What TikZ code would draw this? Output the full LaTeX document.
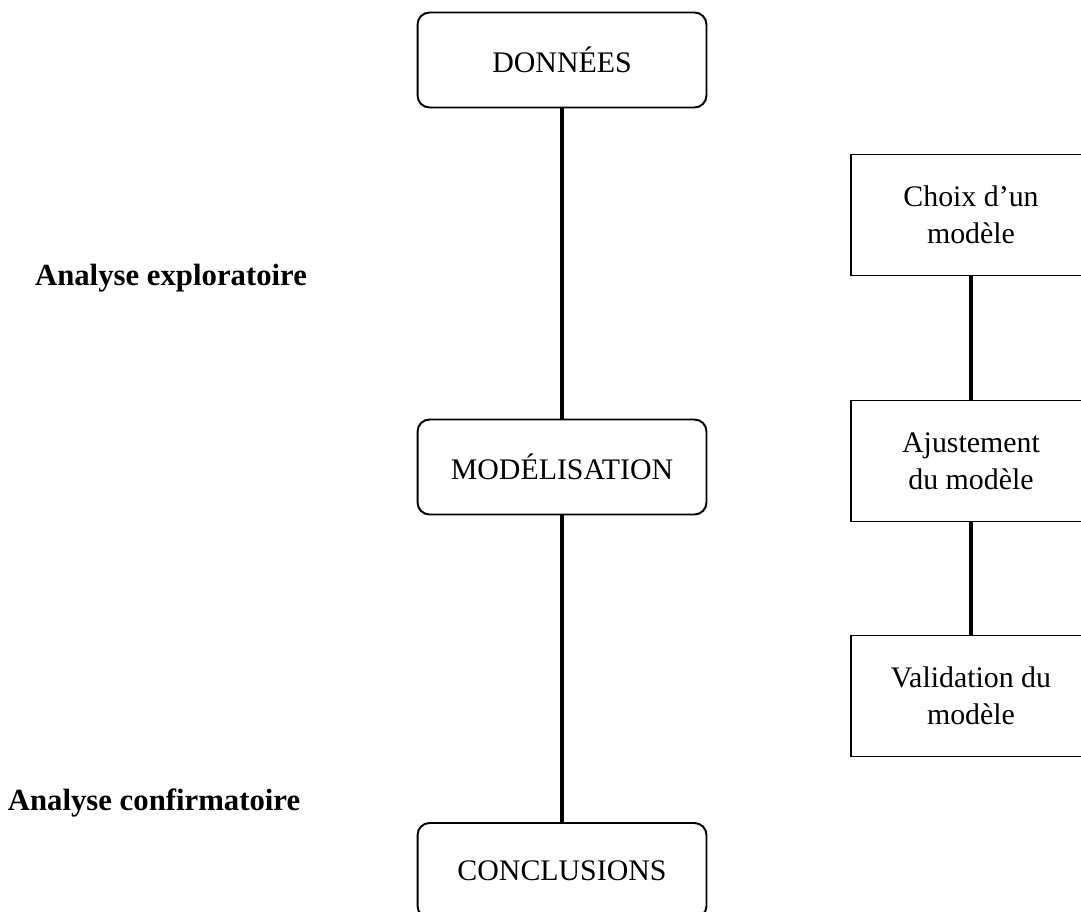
\documentclass[tikz,border=0pt]{standalone}
\usepackage{fontspec}
\setmainfont{Liberation Serif}
\begin{document}
\begin{tikzpicture}[x=0.02cm,y=-0.02cm,
    etape/.style={draw,line width=1.1pt,rounded corners=0.24cm,
      minimum width=5.78cm,minimum height=1.9cm,
      font=\fontsize{17}{21}\selectfont},
    sousetape/.style={draw,line width=1.1pt,
      minimum width=4.8cm,minimum height=2.42cm,align=center,
      font=\fontsize{17}{21}\selectfont},
    phase/.style={font=\fontsize{17.5}{21}\selectfont\bfseries},
    lien/.style={line width=2.8pt}]
    \useasboundingbox (0,0) rectangle (1081,912);
    \clip (0,0) rectangle (1081,912);
    \node[etape] (donnees) at (562,60) {DONNÉES};
    \node[etape] (model) at (562,467) {MODÉLISATION};
    \node[etape] (concl) at (562,870.5) {CONCLUSIONS};
    \node[sousetape] (choix) at (971,215) {Choix d’un\\modèle};
    \node[sousetape] (ajust) at (971,461) {Ajustement\\du modèle};
    \node[sousetape] (valid) at (971,696) {Validation du\\modèle};
    \node[phase] (explo) at (171,278) {Analyse exploratoire};
    \node[phase] (confi) at (154,803) {Analyse confirmatoire};
    \draw[lien] (donnees) -- (model);
    \draw[lien] (model) -- (concl);
    \draw[lien] (choix) -- (ajust);
    \draw[lien] (ajust) -- (valid);
\end{tikzpicture}
\end{document}
